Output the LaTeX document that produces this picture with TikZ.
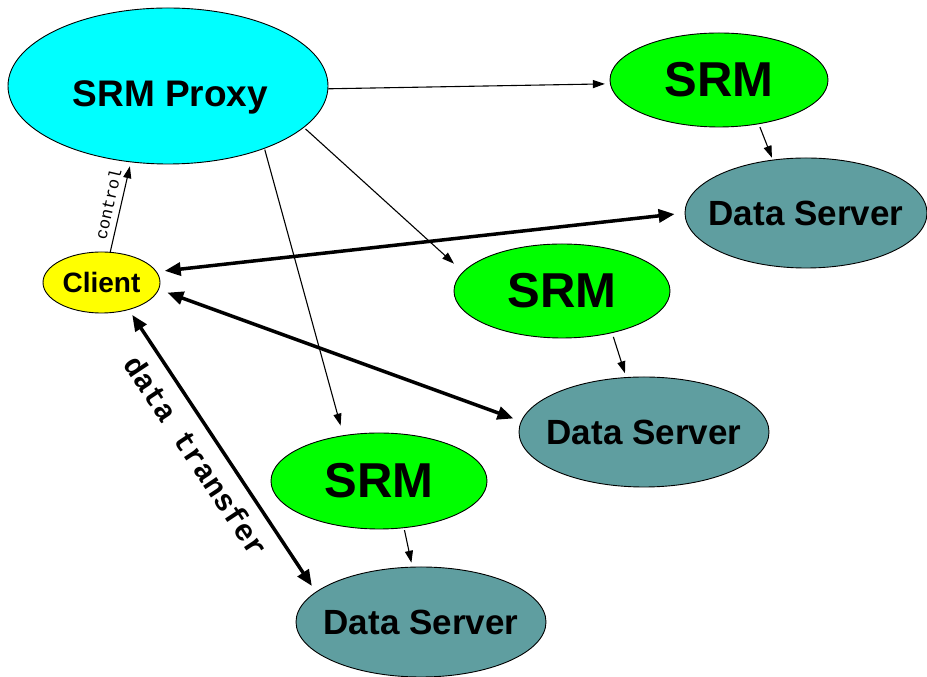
\documentclass[tikz,border=0pt]{standalone}
\usepackage{fontspec}
\setmainfont{Liberation Sans}
\setmonofont{Liberation Mono}
\usetikzlibrary{shapes.geometric,arrows.meta}
\definecolor{proxycol}{HTML}{00FFFF}
\definecolor{srmcol}{HTML}{00FF00}
\definecolor{clientcol}{HTML}{FFFF00}
\definecolor{dscol}{HTML}{5F9EA0}
\tikzset{
  ell/.style={ellipse, draw=black, line width=0.9pt, inner sep=0pt, font=\bfseries},
  proxybox/.style={ell, fill=proxycol, minimum width=320pt, minimum height=156pt, text height=42pt, text depth=0pt, font=\bfseries\fontsize{37}{40}\selectfont},
  srmbox/.style={ell, fill=srmcol, minimum width=216pt, minimum height=94pt, font=\bfseries\fontsize{49}{52}\selectfont},
  dsbox/.style={ell, fill=dscol, inner xsep=-18pt, minimum width=250pt, minimum height=110pt, font=\bfseries\fontsize{35}{38}\selectfont},
  clientbox/.style={ell, fill=clientcol, inner xsep=-8pt, minimum width=117pt, minimum height=61pt, font=\bfseries\fontsize{28}{30}\selectfont},
  thinarrow/.style={line width=1.1pt, -{Triangle[length=12pt,width=8pt]}},
  thickarrow/.style={line width=3.5pt, {Triangle[length=16pt,width=13pt]}-{Triangle[length=16pt,width=13pt]}},
}
\begin{document}
\begin{tikzpicture}[x=1pt,y=1pt]
\useasboundingbox (0,0) rectangle (927,677);
\node[proxybox] (proxy) at (168,591) {\hspace*{5pt}SRM Proxy};
\node[srmbox, minimum width=218pt] (srm1) at (719,597) {SRM};
\node[dsbox, minimum width=242pt] (ds1) at (806,464) {Data Server};
\node[clientbox] (client) at (101.5,394.5) {Client};
\node[srmbox] (srm2) at (562,386) {SRM};
\node[dsbox] (ds2) at (644,245) {Data Server};
\node[srmbox, minimum height=96pt] (srm3) at (379,196) {SRM};
\node[dsbox] (ds3) at (421,55) {Data Server};

% control
\draw[thinarrow, shorten >=4pt] (client.74) -- node[sloped, above=6pt, inner sep=0pt, font=\ttfamily\fontsize{17}{17}\selectfont] (lblcontrol) {control} (proxy.244);
% proxy to SRMs
\draw[thinarrow, shorten >=5pt] (proxy.-1) -- (srm1.182);
\draw[thinarrow, shorten <=2pt, shorten >=12pt] (proxy.-17) -- (srm2.169);
\draw[thinarrow, shorten <=1pt, shorten >=10pt] (proxy.-33) -- (srm3.128);
% SRM to data servers
\draw[thinarrow, shorten <=3pt, shorten >=2pt] (srm1.-48) -- (ds1.122);
\draw[thinarrow, shorten <=4pt, shorten >=4pt] (srm2.-40) -- (ds2.108);
\draw[thinarrow, shorten <=2pt, shorten >=4pt] (srm3.-62) -- (ds3.99);
% data transfer
\draw[thickarrow, shorten <=8pt, shorten >=10pt] (client.11) -- (ds1.180);
\draw[thickarrow, shorten <=9pt, shorten >=8pt] (client.-7) -- (ds2.175);
\draw[thickarrow, shorten <=6pt, shorten >=7pt] (client.-45) -- node[sloped, below=8pt, pos=0.47, font=\ttfamily\bfseries\fontsize{30}{30}\selectfont] (lbldata) {data transfer} (ds3.164);
\end{tikzpicture}
\end{document}
